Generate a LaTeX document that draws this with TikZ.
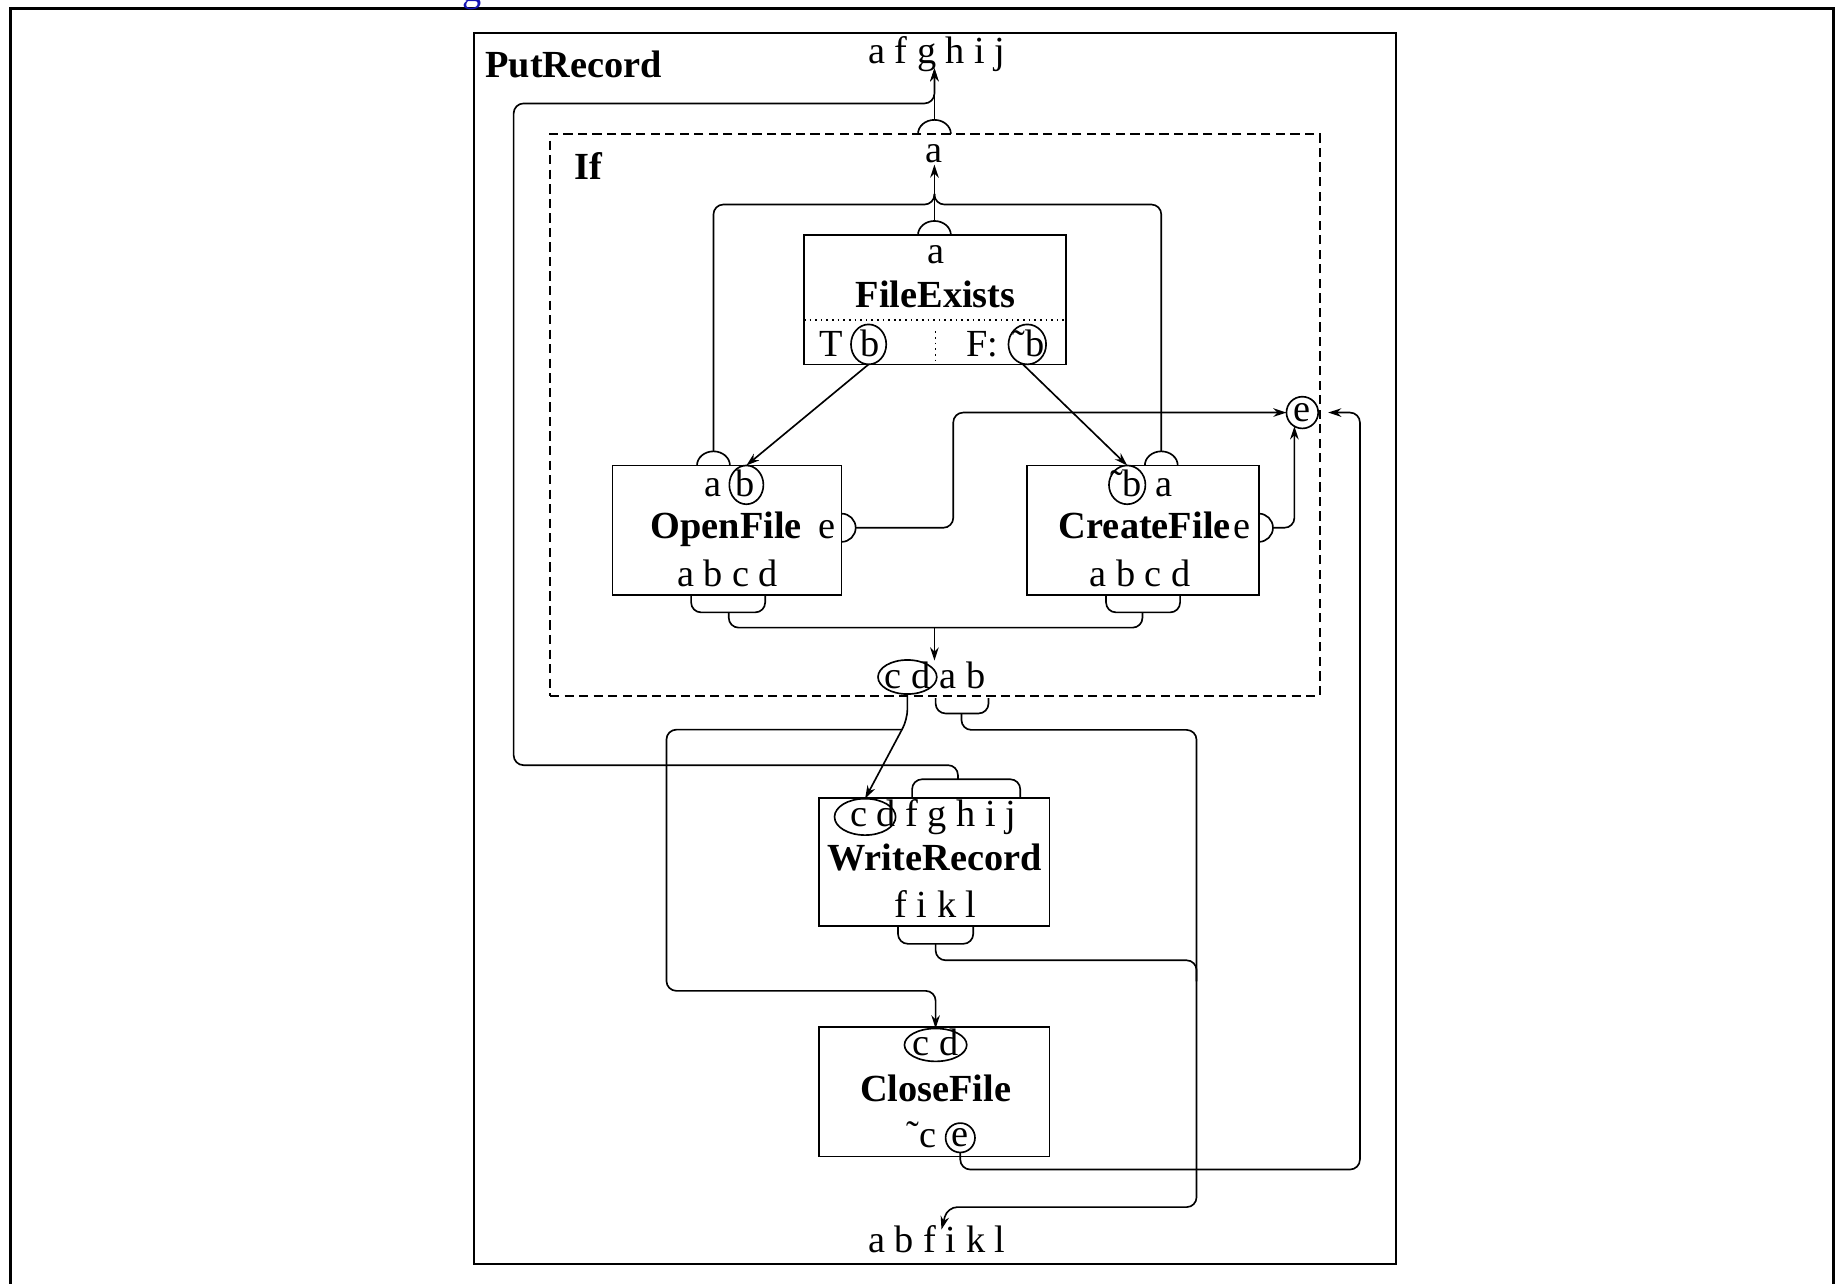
\documentclass[tikz,border=0pt]{standalone}
\usepackage{fontspec}
\setmainfont{Liberation Serif}
\usetikzlibrary{arrows.meta,shapes.geometric,calc}
\newcommand\pxu{0.3557pt}
\begin{document}
\begin{tikzpicture}[x=0.3557pt,y=-0.3557pt,
  every node/.style={inner sep=0pt, outer sep=0pt, font=\fontsize{11.6}{13}\selectfont},
  lbl/.style={anchor=base},
  bold/.style={anchor=base, font=\fontsize{11.6}{13}\selectfont\bfseries},
  thinline/.style={line width=0.5pt},
  conn/.style={line width=0.5pt, rounded corners=3pt},
  arr/.style={conn, -{Stealth[length=4pt,width=2.6pt]}},
  oval/.style={draw, ellipse, line width=0.5pt},
  ring/.style={draw, circle, line width=0.5pt, minimum size=25*\pxu},
  box/.style={draw, line width=0.5pt},
  dotl/.style={line width=0.5pt, dash pattern=on 0.5pt off 1.2pt},
]
\useasboundingbox (0,0) rectangle (1568,1092);

% outer frame and stray blue glyph (cut off at the top, as in the reference)
\draw[line width=0.9pt] (9,7) rectangle (1560,1120);
\node[lbl, text={rgb,255:red,20;green,20;blue,180}] (blueg) at (402,1) {g};

% boxes
\node[box, line width=0.6pt, minimum width=785*\pxu, minimum height=1047*\pxu] (put) at (795.5,551.5) {};
\node[draw, line width=0.5pt, dash pattern=on 2.8pt off 1.6pt, minimum width=655*\pxu, minimum height=478*\pxu] (ifb) at (795.5,353) {};
\node[box, minimum width=223*\pxu, minimum height=110*\pxu] (fe) at (795.5,255) {};
\node[box, minimum width=195*\pxu, minimum height=110*\pxu] (of) at (618.5,451) {};
\node[box, minimum width=197*\pxu, minimum height=110*\pxu] (cf) at (972.5,451) {};
\node[box, minimum width=196*\pxu, minimum height=109*\pxu] (wr) at (795,733.5) {};
\node[box, minimum width=196*\pxu, minimum height=110*\pxu] (cl) at (795,929) {};

% texts
\node[bold, anchor=base west] (tput) at (413,66) {PutRecord};
\node[lbl] (tin) at (797,54) {a f g h i j};
\node[bold, anchor=base west] (tif) at (489,153) {If};
\node[lbl] (ifa) at (795,138) {a};

\node[lbl] (fea) at (796,224) {a};
\node[bold] (fet) at (796,262) {FileExists};
\draw[dotl] (684,272) -- (907,272);
\draw[dotl] (796,282) -- (796,308);
\node[lbl] (feT) at (707,303) {T};
\node[lbl] (feb1) at (740,303) {b};
\node[oval, minimum width=30*\pxu, minimum height=34*\pxu] (tb) at (739,293) {};
\node[lbl] (feF) at (836,303) {F:};
\node[lbl] (feb2) at (875,303) {\char"02DC b};
\node[oval, minimum width=32*\pxu, minimum height=34*\pxu] (fb) at (874,293) {};

\node[lbl] (ofa) at (607,422) {a};
\node[lbl] (ofb) at (634,422) {b};
\node[oval, minimum width=29*\pxu, minimum height=33*\pxu] (ob) at (635,412.5) {};
\node[bold] (oft) at (618,458) {OpenFile};
\node[lbl] (ofe) at (704,458) {e};
\node[lbl] (ofo) at (619,499) {a b c d};

\node[lbl] (cfb) at (958,422) {\char"02DC b};
\node[oval, minimum width=31*\pxu, minimum height=33*\pxu] (cb) at (959,412.5) {};
\node[lbl] (cfa) at (990,422) {a};
\node[bold] (cft) at (974,458) {CreateFile};
\node[lbl] (cfe2) at (1057,458) {e};
\node[lbl] (cfo) at (970,499) {a b c d};

\node[ring, minimum size=27*\pxu] (ife) at (1108,351) {e};

\node[lbl] (ifcdt) at (772,586) {c d};
\node[lbl] (ifabt) at (819,586) {a b};
\node[oval, minimum width=50*\pxu, minimum height=29*\pxu] (ifcd) at (772,576) {};

\node[lbl] (wrin) at (794,703) {c d f g h i j};
\node[oval, minimum width=52*\pxu, minimum height=31*\pxu] (wrcd) at (736,695) {};
\node[bold] (wrt) at (795,741) {WriteRecord};
\node[lbl] (wrout) at (796,781) {f i k l};

\node[lbl] (clin) at (796,898) {c d};
\node[oval, minimum width=53*\pxu, minimum height=28*\pxu] (clcd) at (796,889) {};
\node[bold] (clt) at (796,937) {CloseFile};
\node[lbl] (clc) at (784,976) {\char"02DC c};
\node[ring, minimum size=25*\pxu] (cle) at (817,968) {e};

\node[lbl] (tout) at (797,1066) {a b f i k l};

% port humps
\draw[thinline] (781,114) arc[start angle=180, end angle=0, x radius=14*\pxu, y radius=12*\pxu];
\draw[thinline] (781,200) arc[start angle=180, end angle=0, x radius=14*\pxu, y radius=12*\pxu];
\draw[thinline] (593,396) arc[start angle=180, end angle=0, x radius=14*\pxu, y radius=12*\pxu];
\draw[thinline] (974,396) arc[start angle=180, end angle=0, x radius=14*\pxu, y radius=12*\pxu];
\draw[thinline] (716,437) arc[start angle=90, end angle=-90, x radius=12*\pxu, y radius=12*\pxu];
\draw[thinline] (1071,437) arc[start angle=90, end angle=-90, x radius=12*\pxu, y radius=12*\pxu];

% brackets
\draw[conn] (588,506) |- (651,521) -- (651,506);
\draw[conn] (941,506) |- (1004,521) -- (1004,506);
\draw[conn] (796,594) |- (841,607) -- (841,594);
\draw[conn] (764,788) |- (828,803) -- (828,788);
\draw[conn] (776,679) |- (868,663) -- (868,679);

% connectors
\draw[arr] (795,102) -- (795,58);
\draw[arr] (815,663) |- (437,651) |- (795,88) -- (795,58);
\draw[arr] (795,188) -- (795,140);
\draw[conn] (607,384) |- (795,174) -- (795,165);
\draw[conn] (988,384) |- (795,174) -- (795,165);
\draw[arr] (tb.south) -- (ob.north);
\draw[arr] (fb.255) -- (cb.north);
\draw[arr] (728,449) -| (811,351) -- (ife.west);
\draw[arr] (1083,449) -| (ife.240);
\draw[arr] (cle.south) |- (1157,995) |- (1130,351);
\draw[conn] (620,521) |- (972,534) -- (972,521);
\coordinate (m1) at (795,534);
\draw[arr] (m1) -- (795,562);
\draw[arr] (818,607) |- (1018,621) |- (806,1027) -- (801,1046);
\draw[conn] (796,803) |- (1018,817) -- (1018,835);
\coordinate (cdbend) at (772,612);
\draw[arr] (ifcd.south) -- (cdbend) -- (wrcd.north);
\coordinate (j1) at ($(cdbend)!0.13!(wrcd.north)$);
\draw[arr] (j1) -| (567,843) -| (clcd.north);
\end{tikzpicture}
\end{document}
